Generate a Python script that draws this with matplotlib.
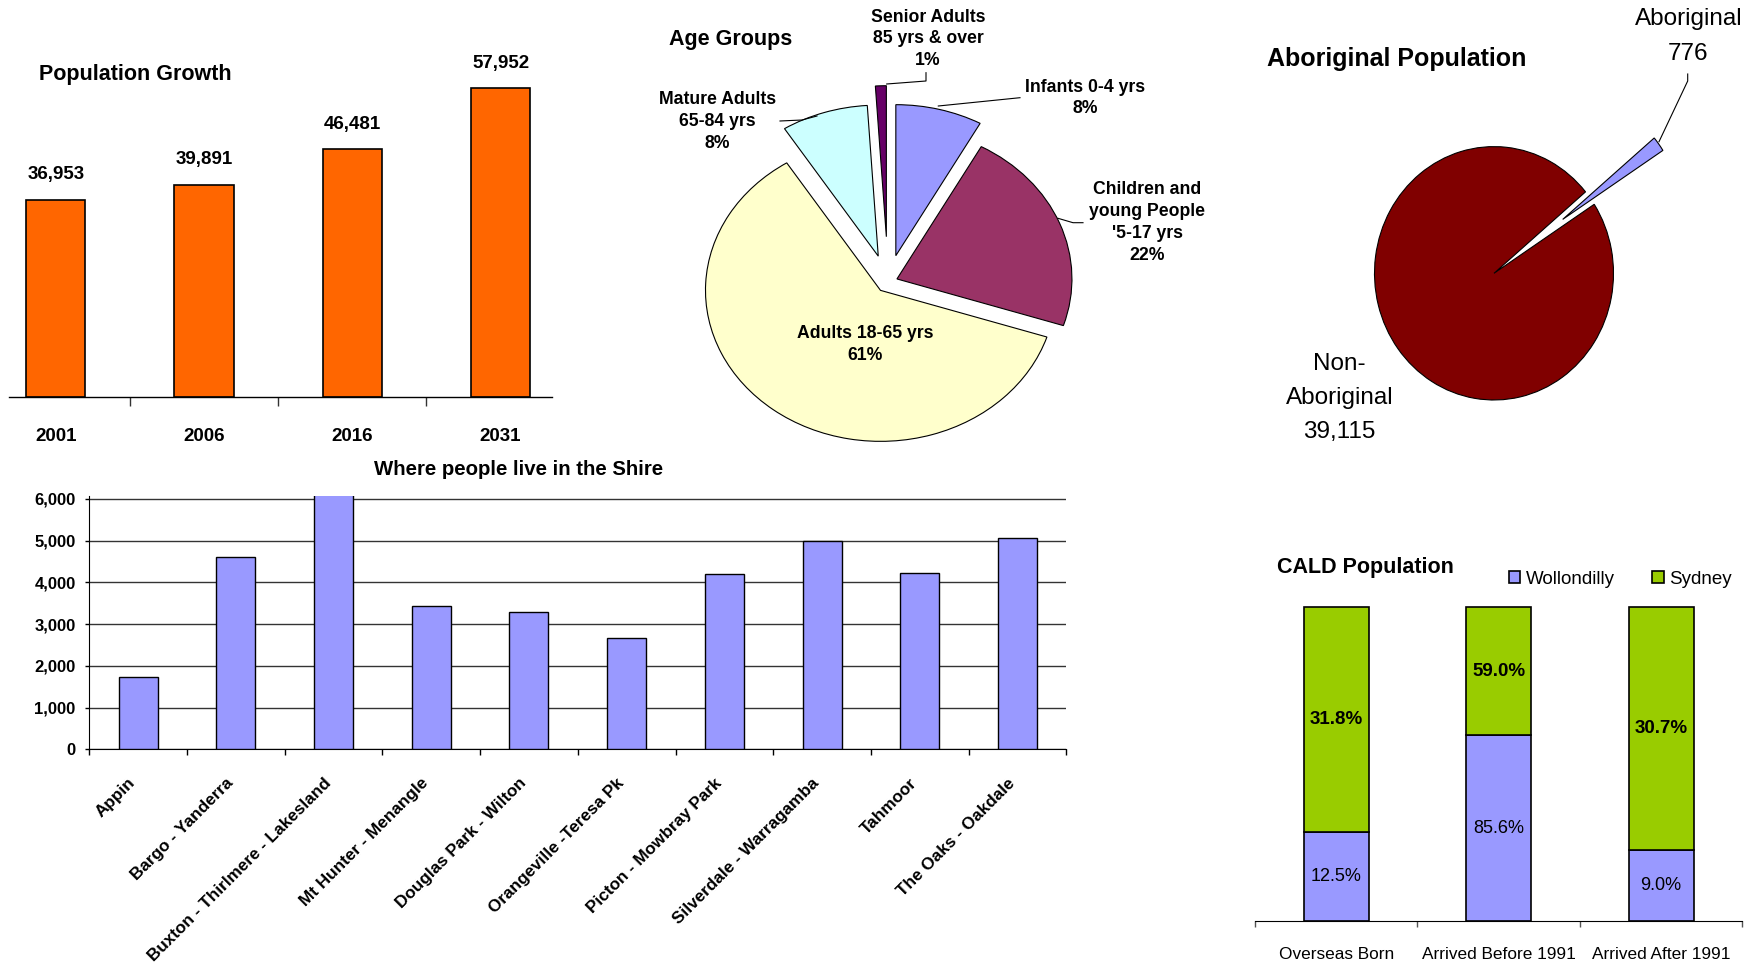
import matplotlib
matplotlib.use('Agg')
import matplotlib.pyplot as plt
from matplotlib.transforms import ScaledTranslation
from matplotlib.ticker import FuncFormatter
import numpy as np

# ---------------- data ----------------
years = ['2001', '2006', '2016', '2031']
population = [36953, 39891, 46481, 57952]

age_groups = ['Infants 0-4 yrs', "Children and\nyoung People\n'5-17 yrs",
              'Adults 18-65 yrs', 'Mature Adults\n65-84 yrs',
              'Senior Adults\n85 yrs & over']
age_share = [8, 22, 61, 8, 1]

abor_labels = ['Aboriginal', 'Non-\nAboriginal']
abor_counts = [776, 39115]

localities = ['Appin', 'Bargo - Yanderra', 'Buxton - Thirlmere - Lakesland',
              'Mt Hunter - Menangle', 'Douglas Park - Wilton',
              'Orangeville -Teresa Pk', 'Picton - Mowbray Park',
              'Silverdale - Warragamba', 'Tahmoor', 'The Oaks - Oakdale']
locality_pop = [1740, 4600, 6200, 3440, 3280, 2660, 4200, 5000, 4230, 5060]

cald_categories = ['Overseas Born', 'Arrived Before 1991', 'Arrived After 1991']
wollondilly = [12.5, 85.6, 9.0]
sydney = [31.8, 59.0, 30.7]

# ---------------- setup ----------------
W, H = 1752, 966
DPI = 100
ARIAL = ['Liberation Sans', 'DejaVu Sans']
plt.rcParams['font.family'] = ARIAL


def rect(l, t, r, b):
    return [l / W, 1 - b / H, (r - l) / W, (b - t) / H]


fig = plt.figure(figsize=(W / DPI, H / DPI), dpi=DPI, facecolor='white')

# ---------------- Population Growth ----------------
ax1 = fig.add_axes(rect(9, 20, 552, 397))
x1 = np.arange(len(years))
bars1 = ax1.bar(x1, population, width=0.4, color='#FF6600',
                edgecolor='black', linewidth=1.2)
ax1.set_xlim(-0.315, 3.347)
ax1.set_ylim(0, 70774)
for s in ['top', 'right', 'left']:
    ax1.spines[s].set_visible(False)
ax1.spines['bottom'].set_linewidth(1.0)
ax1.set_yticks([])
ax1.set_xticks(x1, years, fontsize=13.5, fontweight='bold')
ax1.set_xticks(x1[:-1] + 0.5, minor=True)
ax1.tick_params(axis='x', which='major', length=0, pad=22)
ax1.tick_params(axis='x', which='minor', length=6.5, width=1, color='#333333')
ax1.bar_label(bars1, labels=[f'{v:,}' for v in population], padding=12,
              fontsize=13.5, fontweight='bold')

# ---------------- Age Groups pie ----------------
cx2, cy2, a2, b2 = 888, 282, 175, 151
ax2 = fig.add_axes(rect(cx2 - 270, cy2 - 230, cx2 + 270, cy2 + 200))
ax2.pie(age_share, explode=[0.18, 0.055, 0.07, 0.18, 0.30],
        colors=['#9999FF', '#993366', '#FFFFCC', '#CCFFFF', '#660066'],
        startangle=90, counterclock=False,
        wedgeprops=dict(edgecolor='black', linewidth=0.8))
ax2.set_aspect('auto')
ax2.set_xlim(-270 / a2, 270 / a2)
ax2.set_ylim(-200 / b2, 230 / b2)
ax2.set_axis_off()

# ---------------- Aboriginal pie ----------------
cx3, cy3, a3, b3 = 1494, 273.3, 119.5, 126.7
ax3 = fig.add_axes(rect(cx3 - 200, cy3 - 260, cx3 + 250, cy3 + 140))
ax3.pie(abor_counts, explode=[0.715, 0], colors=['#9999FF', '#800000'],
        startangle=33, counterclock=True,
        wedgeprops=dict(edgecolor='black', linewidth=0.8))
ax3.set_aspect('auto')
ax3.set_xlim(-200 / a3, 250 / a3)
ax3.set_ylim(-140 / b3, 260 / b3)
ax3.set_axis_off()

# ---------------- Where people live ----------------
ax4 = fig.add_axes(rect(89.3, 495.7, 1066.3, 749.3))
x4 = np.arange(len(localities))
ax4.bar(x4, locality_pop, width=0.4, color='#9999FF', edgecolor='black',
        linewidth=1.0, zorder=3)
ax4.set_xlim(-0.5, len(localities) - 0.5)
ax4.set_ylim(0, 6079)
ax4.set_yticks(range(0, 6001, 1000))
ax4.yaxis.set_major_formatter(FuncFormatter(lambda v, p: f'{int(v):,}'))
ax4.grid(axis='y', color='#333333', linewidth=1.0, zorder=0)
ax4.set_axisbelow(True)
for s in ['top', 'right']:
    ax4.spines[s].set_visible(False)
ax4.tick_params(axis='y', length=3, width=1, pad=6.9, labelsize=12)
for lbl in ax4.get_yticklabels():
    lbl.set_fontweight('bold')
ax4.set_xticks(x4, localities, rotation=45, ha='right', va='center',
               rotation_mode='anchor', fontsize=12.3, fontweight='bold')
ax4.set_xticks(np.arange(-0.5, len(localities), 1.0), minor=True)
ax4.tick_params(axis='x', which='major', length=0, pad=22.5)
ax4.tick_params(axis='x', which='minor', length=4, width=1)
for lbl in ax4.get_xticklabels():
    lbl.set_transform(lbl.get_transform() +
                      ScaledTranslation(-5 / DPI, 0, fig.dpi_scale_trans))

# ---------------- CALD ----------------
ax5 = fig.add_axes(rect(1255, 600, 1742.3, 921))
x5 = np.arange(len(cald_categories))
tot = np.array(wollondilly) + np.array(sydney)
w_frac = np.array(wollondilly) / tot
s_frac = np.array(sydney) / tot
bw = ax5.bar(x5, w_frac, 0.4, color='#9999FF', edgecolor='black',
             linewidth=1.2, label='Wollondilly')
bs = ax5.bar(x5, s_frac, 0.4, bottom=w_frac, color='#99CC00',
             edgecolor='black', linewidth=1.2, label='Sydney')
ax5.set_xlim(-0.5, 2.5)
ax5.set_ylim(0, (921 - 600) / 313.7)
for s in ['top', 'right', 'left']:
    ax5.spines[s].set_visible(False)
ax5.set_yticks([])
ax5.set_xticks(x5, cald_categories, fontsize=12.4)
ax5.set_xticks([-0.5, 0.5, 1.5, 2.5], minor=True)
ax5.tick_params(axis='x', which='major', length=0, pad=18.5)
ax5.tick_params(axis='x', which='minor', length=4.5, width=1, color='#555555')
ax5.bar_label(bw, labels=[f'{v:.1f}%' for v in wollondilly], label_type='center',
              fontsize=13)
ax5.bar_label(bs, labels=[f'{v:.1f}%' for v in sydney], label_type='center',
              fontsize=13.5, fontweight='bold')
fig.legend(handles=[bw, bs], labels=['Wollondilly', 'Sydney'],
           loc='center left', bbox_to_anchor=(1509 / W, 1 - 579 / H),
           ncol=2, frameon=False, prop=dict(size=13.5),
           handlelength=0.6, handleheight=0.65, handletextpad=0.3,
           columnspacing=2.0, borderpad=0, borderaxespad=0)

# ---------------- overlay for titles and pie labels ----------------
ov = fig.add_axes([0, 0, 1, 1], zorder=10)
ov.set_xlim(0, W)
ov.set_ylim(H, 0)
ov.set_axis_off()

ov.text(39, 80, 'Population Growth', ha='left', va='baseline', fontsize=15.5,
        fontweight='bold')
ov.text(669.3, 45, 'Age Groups', ha='left', va='baseline', fontsize=15.5,
        fontweight='bold')
ov.text(1267.3, 65.7, 'Aboriginal Population', ha='left', va='baseline',
        fontsize=18, fontweight='bold')
ov.text(518.5, 475, 'Where people live in the Shire', ha='center',
        va='baseline', fontsize=14.7, fontweight='bold')
ov.text(1276.7, 572.7, 'CALD Population', ha='left', va='baseline',
        fontsize=15.5, fontweight='bold')


def lines_at(x, y0, step, text, **kw):
    for i, line in enumerate(text.split('\n')):
        ov.text(x, y0 + i * step, line, ha='center', va='center', **kw)


age_pos = [(1085, 87.5, 21), (1147, 190, 22), (865.5, 334, 21.7),
           (717.5, 100, 22), (928, 17.5, 21.3)]
for name, share, (px, py, st) in zip(age_groups, age_share, age_pos):
    lines_at(px, py, st, f'{name}\n{share}%', fontsize=12.7, fontweight='bold')

abor_pos = [(1688.3, 19, 35), (1339.7, 364, 34)]
for name, cnt, (px, py, st) in zip(abor_labels, abor_counts, abor_pos):
    lines_at(px, py, st, f'{name}\n{cnt:,}', fontsize=17.5)

lk = dict(color='black', lw=0.8)
ov.plot([926, 926, 886.7], [72.7, 81, 84], **lk)
ov.plot([1020, 938.3], [97.7, 106], **lk)
ov.plot([780, 802, 817], [121, 120, 116], **lk)
ov.plot([1083, 1073, 1058], [222.7, 222.7, 218.3], **lk)
ov.plot([1687.7, 1687.7, 1659], [74, 81, 141.7], **lk)

fig.savefig('out.png', dpi=DPI, facecolor='white')
